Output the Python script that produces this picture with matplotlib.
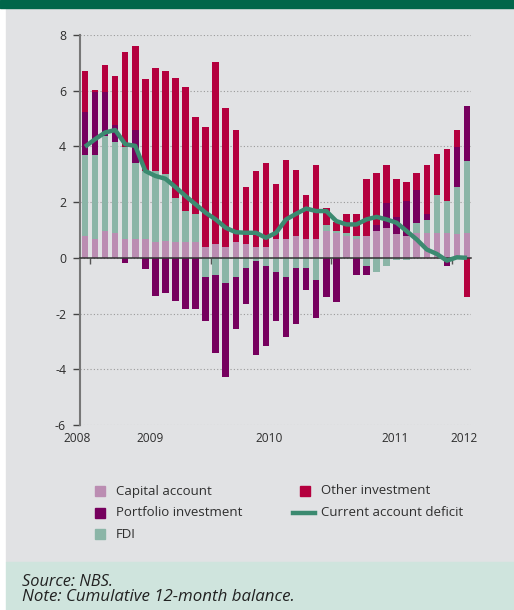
import matplotlib
matplotlib.use("Agg")
import matplotlib.pyplot as plt
from matplotlib.patches import Rectangle
from matplotlib.lines import Line2D
from matplotlib.transforms import blended_transform_factory
import numpy as np

plt.rcParams["font.family"] = ["Open Sans", "DejaVu Sans"]
plt.rcParams["axes.unicode_minus"] = False

# Financial account components, cumulative 12-month balance (monthly)
capital_account = [0.78, 0.68, 0.96, 0.90, 0.68, 0.68, 0.68, 0.56, 0.62, 0.56,
                   0.56, 0.56, 0.38, 0.49, 0.38, 0.56, 0.49, 0.38, 0.38, 0.67,
                   0.67, 0.78, 0.67, 0.67, 0.96, 0.90, 0.78, 0.67, 0.78, 0.96,
                   1.07, 0.85, 0.78, 0.90, 0.90, 0.90, 0.90, 0.85, 0.90]
fdi = [2.91, 3.01, 3.42, 3.26, 3.30, 2.74, 2.44, 2.56, 2.40, 1.60,
       1.12, 1.00, -0.67, -0.61, -0.89, -0.67, -0.38, -0.10, -0.31, -0.49,
       -0.67, -0.38, -0.38, -0.78, 0.22, 0.06, 0.11, 0.11, -0.28, -0.49,
       -0.31, -0.08, -0.08, 0.35, 0.45, 1.35, 1.14, 1.69, 2.58]
portfolio_investment = [1.55, 2.25, 1.56, 0.61, -0.19, 1.17, -0.40, -1.37, -1.26, -1.56,
                        -1.85, -1.85, -1.58, -2.82, -3.40, -1.87, -1.29, -3.40, -2.84, -1.76,
                        -2.16, -1.98, -0.79, -1.37, -1.39, -1.57, 0.00, -0.60, -0.32, 0.22,
                        0.90, 0.61, 1.26, 1.18, 0.22, 0.00, -0.31, 1.44, 1.98]
other_investment = [1.47, 0.09, 0.99, 1.76, 3.42, 3.02, 3.29, 3.71, 3.69, 4.31,
                    4.47, 3.50, 4.32, 6.55, 5.00, 4.03, 2.05, 2.74, 3.03, 1.98,
                    2.84, 2.37, 1.58, 2.66, 0.61, 0.32, 0.68, 0.79, 2.05, 1.87,
                    1.36, 1.37, 0.68, 0.62, 1.76, 1.48, 1.87, 0.61, -1.39]
current_account_deficit = [3.99, 4.26, 4.50, 4.59, 4.08, 4.02, 3.12, 2.94, 2.84, 2.54,
                           2.22, 1.92, 1.62, 1.38, 1.08, 0.92, 0.90, 0.90, 0.72, 0.90,
                           1.38, 1.58, 1.77, 1.68, 1.68, 1.32, 1.20, 1.20, 1.38, 1.47,
                           1.38, 1.26, 0.96, 0.66, 0.30, 0.14, -0.10, 0.02, 0.00]

year_labels = ["2008", "2009", "2010", "2011", "2012"]
year_label_pos = [-0.8, 6.47, 18.3, 30.9, 37.7]
year_tick_pos = [0.5, 12.5, 24.5, 36.5]

colors = {
    "Capital account": "#bb8db2",
    "FDI": "#8bb5a7",
    "Portfolio investment": "#76005e",
    "Other investment": "#b4003e",
}
line_color = "#3b8a70"
text_color = "#2e2e2e"

W, H = 514, 610
fig = plt.figure(figsize=(W / 100, H / 100), dpi=100, facecolor="white")

# background panels
fig.patches.append(Rectangle((6 / W, 48 / H), 1 - 6 / W, (602 - 48) / H,
                             transform=fig.transFigure, color="#e1e2e4", zorder=-3))
fig.patches.append(Rectangle((0, 602 / H), 1, 8 / H,
                             transform=fig.transFigure, color="#00664a", zorder=-3))
fig.patches.append(Rectangle((6 / W, 0), 1 - 6 / W, 48 / H,
                             transform=fig.transFigure, color="#cfe4dd", zorder=-3))

ax = fig.add_axes([80 / W, 1 - 425 / H, 391 / W, 390 / H])
ax.set_facecolor("none")

n = len(capital_account)
x = np.arange(n)
stack = [("Capital account", capital_account), ("FDI", fdi),
         ("Portfolio investment", portfolio_investment),
         ("Other investment", other_investment)]
pos_base = np.zeros(n)
neg_base = np.zeros(n)
for name, vals in stack:
    v = np.asarray(vals, dtype=float)
    base = np.where(v >= 0, pos_base, neg_base)
    ax.bar(x, v, bottom=base, width=0.65, color=colors[name], linewidth=0, zorder=1)
    pos_base += np.clip(v, 0, None)
    neg_base += np.clip(v, None, 0)

ax.plot(x, current_account_deficit, color=line_color, lw=3.2, zorder=4,
        solid_joinstyle="round", solid_capstyle="butt")

ax.set_xlim(-0.5, 38.4)
ax.set_ylim(-6, 8)
ax.set_yticks(range(-6, 9, 2))
ax.yaxis.grid(True, linestyle=(0, (1, 2)), color="#9a9a9a", lw=0.8)
ax.set_axisbelow(True)

for s in ["top", "right"]:
    ax.spines[s].set_visible(False)
ax.spines["left"].set_color("#777777")
ax.spines["left"].set_linewidth(1.5)
ax.spines["bottom"].set_position(("data", 0))
ax.spines["bottom"].set_color("#333333")
ax.spines["bottom"].set_linewidth(1.1)
ax.spines["bottom"].set_zorder(3)

ax.set_xticks(year_tick_pos)
ax.set_xticklabels([])
ax.tick_params(axis="x", direction="out", length=4, width=1, color="#555555")
ax.tick_params(axis="y", direction="out", length=5, width=1, color="#444444",
               pad=5, labelsize=8.8, labelcolor=text_color)

trans = blended_transform_factory(ax.transData, ax.transAxes)
for lbl, p in zip(year_labels, year_label_pos):
    ax.text(p, -13 / 390, lbl, transform=trans, ha="center", va="center",
            fontsize=8.6, color=text_color)

# legend drawn in figure pixel coordinates
def fx(px):
    return px / W


def fy(py):
    return 1 - py / H


legend_entries = [
    ("Capital account", 100, 491),
    ("Portfolio investment", 100, 512.5),
    ("FDI", 100, 534),
    ("Other investment", 305, 491),
]
for name, cx, cy in legend_entries:
    fig.patches.append(Rectangle((fx(cx - 5), fy(cy + 5)), 10 / W, 10 / H,
                                 transform=fig.transFigure, color=colors[name]))
    fig.text(fx(cx + 16), fy(cy), name, ha="left", va="center",
             fontsize=9.5, color=text_color)
fig.add_artist(Line2D([fx(293), fx(315)], [fy(512.5), fy(512.5)],
                      transform=fig.transFigure, color=line_color, lw=3.2))
fig.text(fx(321), fy(512.5), "Current account deficit", ha="left", va="center",
         fontsize=9.5, color=text_color)

fig.text(fx(22), fy(585.5), "Source: NBS.", ha="left", va="baseline",
         fontsize=11.8, style="italic", color="#222222")
fig.text(fx(22), fy(601), "Note: Cumulative 12-month balance.", ha="left",
         va="baseline", fontsize=12.2, style="italic", color="#222222")

fig.savefig("out.png", dpi=100, facecolor="white")
